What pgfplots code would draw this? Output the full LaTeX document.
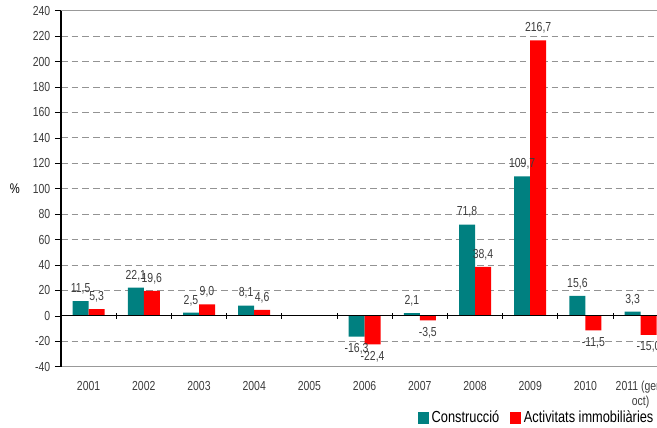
\documentclass[border=0pt]{standalone}
\usepackage{pgfplots}
\pgfplotsset{compat=1.18}
\usepackage{fontspec}
\setmainfont{Liberation Sans}[FakeStretch=0.8]
\definecolor{teal}{RGB}{0,128,128}
\definecolor{txt}{RGB}{60,60,60}
\begin{document}
\begin{tikzpicture}
\useasboundingbox (0,0) rectangle (492.75pt,321pt);
\clip (0,0) rectangle (492.75pt,321pt);
\begin{axis}[
  at={(45.75pt,46pt)}, anchor=south west,
  scale only axis, width=455.4pt, height=267pt,
  xmin=-0.5, xmax=10.5, ymin=-40, ymax=240,
  ytick={-40,-20,...,240},
  xtick={0,...,10},
  xticklabels={2001,2002,2003,2004,2005,2006,2007,2008,2009,2010,{2011 (gen-\\oct)}},
  xticklabel style={align=center, yshift=-3pt},
  x tick style={draw=none},
  y tick style={black, thin},
  ytick pos=left, tick align=outside, major tick length=4.5pt,
  separate axis lines,
  x axis line style={draw=gray!80, line width=0.6pt},
  y axis line style={draw=black, line width=1.1pt},
  ymajorgrids, grid style={gray!85, dash pattern=on 5pt off 3pt, line width=0.5pt},
  tick label style={font=\fontsize{9.8}{11}\selectfont, text=txt},
  /pgf/number format/assume math mode=true,
  ylabel={\%},
  ylabel style={rotate=-90, at={(axis description cs:-0.0758,0.5)}, anchor=center, font=\fontsize{10.5}{12}\selectfont, text=black},
  ybar=0pt, bar width=12pt,
  nodes near coords,
  nodes near coords style={font=\fontsize{9.8}{11}\selectfont, text=txt, inner ysep=5pt,
    /pgf/number format/.cd, fixed, fixed zerofill, precision=1, use comma, assume math mode=true},
  legend columns=2,
  legend style={draw=none, fill=none, at={(0.587,-0.144)}, anchor=west, inner xsep=0pt,
    font=\fontsize{12}{14}\selectfont, /tikz/every even column/.append style={column sep=6pt}},
  legend image code/.code={\fill[#1] (0pt,-4.2pt) rectangle (8.5pt,4.2pt);},
]
\addplot[fill=teal, draw=none] coordinates {(0,11.5) (1,22.1) (2,2.5) (3,8.1) (5,-16.3) (6,2.1) (7,71.8) (8,109.7) (9,15.6) (10,3.3)};
\addlegendentry{Construcció}
\addplot[fill=red, draw=none] coordinates {(0,5.3) (1,19.6) (2,9.0) (3,4.6) (5,-22.4) (6,-3.5) (7,38.4) (8,216.7) (9,-11.5) (10,-15.0)};
\addlegendentry{Activitats immobiliàries}
\end{axis}
\begin{axis}[
  at={(45.75pt,46pt)}, anchor=south west,
  scale only axis, width=455.4pt, height=267pt,
  xmin=-0.5, xmax=10.5, ymin=-40, ymax=240,
  axis x line=middle, axis y line=none,
  axis line style={-, black, line width=0.7pt},
  xtick={0.5,1.5,...,9.5}, xticklabels={},
  tick align=center, major tick length=4.5pt,
  x tick style={black, line width=0.7pt},
]
\end{axis}
\end{tikzpicture}
\end{document}
